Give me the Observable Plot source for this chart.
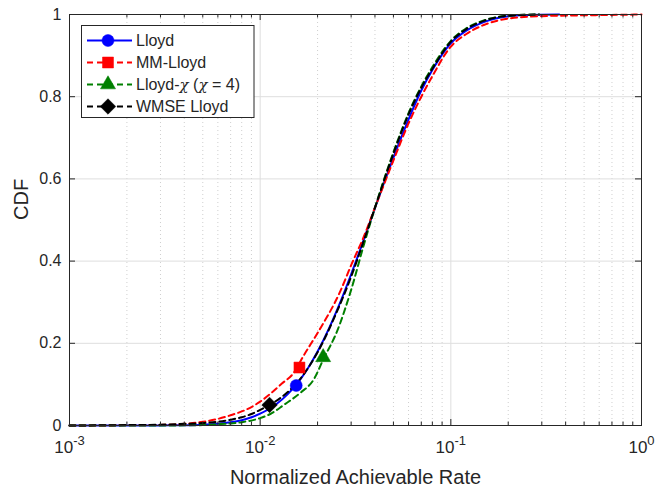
<!DOCTYPE html>
<html><head><meta charset="utf-8">
<script src="https://cdn.jsdelivr.net/npm/d3@7"></script>
<script src="https://cdn.jsdelivr.net/npm/@observablehq/plot@0.6"></script>
<style>body{margin:0;background:#fff}</style>
</head><body><div id="chart"></div>
<script>
// ---- data ----
const seriesNames = ["Lloyd", "MM-Lloyd", "Lloyd-χ (χ = 4)", "WMSE Lloyd"];
const seriesColors = ["#0000ff", "#ff0000", "#008000", "#000000"];
const seriesDash = [null, "6,4", "6,4", "6,4"];
const seriesSymbols = ["circle", "square", "triangle", "diamond2"];
const seriesR = [6, 6.2, 5.6, 7];

const lloydX = [0.001, 0.002, 0.003, 0.004, 0.005, 0.006, 0.007, 0.008, 0.009, 0.010, 0.012, 0.014, 0.016, 0.018, 0.020, 0.023, 0.026, 0.030, 0.035, 0.040, 0.045, 0.050, 0.060, 0.070, 0.080, 0.100, 0.120, 0.150, 0.200, 0.250, 0.370];
const lloydY = [0, 0, 0.0002, 0.0007, 0.002, 0.0045, 0.008, 0.013, 0.020, 0.029, 0.050, 0.077, 0.108, 0.143, 0.180, 0.237, 0.294, 0.368, 0.453, 0.529, 0.595, 0.652, 0.745, 0.815, 0.865, 0.930, 0.960, 0.982, 0.996, 0.999, 1.0];

const mmX = [0.001, 0.002, 0.003, 0.004, 0.005, 0.006, 0.007, 0.0082, 0.010, 0.0113, 0.013, 0.015, 0.0169, 0.020, 0.0264, 0.030, 0.035, 0.040, 0.050, 0.060, 0.070, 0.080, 0.100, 0.120, 0.150, 0.200, 0.300, 0.500, 1.0];
const mmY = [0, 0.0005, 0.0015, 0.004, 0.009, 0.016, 0.025, 0.036, 0.058, 0.077, 0.102, 0.128, 0.170, 0.225, 0.328, 0.39, 0.46, 0.53, 0.645, 0.735, 0.80, 0.85, 0.922, 0.952, 0.975, 0.990, 0.996, 0.998, 1.0];

const chiX = [0.001, 0.003, 0.005, 0.006, 0.007, 0.008, 0.010, 0.0113, 0.0133, 0.0163, 0.0191, 0.0214, 0.0254, 0.030, 0.035, 0.040, 0.050, 0.060, 0.070, 0.080, 0.100, 0.120, 0.150, 0.200, 0.290];
const chiY = [0, 0, 0.001, 0.003, 0.005, 0.008, 0.018, 0.028, 0.050, 0.080, 0.112, 0.160, 0.231, 0.33, 0.44, 0.53, 0.665, 0.76, 0.825, 0.872, 0.936, 0.966, 0.986, 0.997, 1.0];

const wmseX = [0.001, 0.002, 0.003, 0.004, 0.005, 0.006, 0.007, 0.008, 0.009, 0.010, 0.0112, 0.014, 0.016, 0.020, 0.025, 0.030, 0.035, 0.040, 0.050, 0.060, 0.070, 0.080, 0.100, 0.120, 0.150, 0.200, 0.290];
const wmseY = [0, 0.001, 0.002, 0.004, 0.006, 0.009, 0.014, 0.020, 0.028, 0.038, 0.050, 0.082, 0.110, 0.178, 0.272, 0.362, 0.450, 0.530, 0.662, 0.757, 0.822, 0.868, 0.934, 0.964, 0.985, 0.997, 1.0];

const markerX = [0.01546, 0.01607, 0.0214, 0.0112];
const markerY = [0.0973, 0.141, 0.166, 0.050];

const xMajorTicks = [0.001, 0.01, 0.1, 1];
const xMinorTicks = [0.002,0.003,0.004,0.005,0.006,0.007,0.008,0.009,0.02,0.03,0.04,0.05,0.06,0.07,0.08,0.09,0.2,0.3,0.4,0.5,0.6,0.7,0.8,0.9];
const yTicks = [0, 0.2, 0.4, 0.6, 0.8, 1];
const xLabel = "Normalized Achievable Rate";
const yLabel = "CDF";

// ---- layout ----
const W = 656, H = 487, mL = 69, mR = 15, mT = 14, mB = 62;
const plotW = W - mL - mR, plotH = H - mT - mB;
const pxPerDecade = plotW / 3;
const FONT = "'Liberation Sans', Arial, Helvetica, sans-serif";
const AX = "#262626";

const xs = [lloydX, mmX, chiX, wmseX], ys = [lloydY, mmY, chiY, wmseY];
const rows = [];
seriesNames.forEach((s, i) => xs[i].forEach((x, j) => rows.push({series: s, x, y: ys[i][j]})));
const markers = seriesNames.map((s, i) => ({series: s, x: markerX[i], y: markerY[i], i}));

const majLen = 6, minLen = 3.5;
const tickY = (len) => len / plotH;
const tickXf = (len) => Math.pow(10, len / pxPerDecade);

const lineMarks = seriesNames.map((s, i) =>
  Plot.line(rows.filter(r => r.series === s), {
    x: "x", y: "y", stroke: seriesColors[i], strokeWidth: 2,
    strokeDasharray: seriesDash[i], curve: "monotone-x"
  }));
const dotMarks = markers.map(m =>
  Plot.dot([m], {x: "x", y: "y", symbol: () => seriesSymbols[m.i], r: seriesR[m.i],
    fill: seriesColors[m.i], stroke: seriesColors[m.i], strokeWidth: 0.5}));

const chart = Plot.plot({
  width: W, height: H, marginLeft: mL, marginRight: mR, marginTop: mT, marginBottom: mB,
  style: {fontFamily: FONT, background: "#fff", color: AX},
  x: {type: "log", domain: [1e-3, 1]},
  y: {domain: [0, 1]},
  symbol: {type: "identity"},
  marks: [
    Plot.ruleX(xMinorTicks, {x: d => d, stroke: "#cfcfcf", strokeDasharray: "1,3", strokeWidth: 1}),
    Plot.ruleX(xMajorTicks.slice(1, -1), {x: d => d, stroke: "#dedede", strokeWidth: 1}),
    Plot.ruleY(yTicks.slice(1, -1), {y: d => d, stroke: "#dedede", strokeWidth: 1}),
    ...lineMarks,
    ...dotMarks,
    Plot.frame({stroke: AX, strokeWidth: 1}),
    // inward ticks, bottom & top
    Plot.ruleX(xMajorTicks, {x: d => d, y1: 0, y2: tickY(majLen), stroke: AX}),
    Plot.ruleX(xMajorTicks, {x: d => d, y1: 1 - tickY(majLen), y2: 1, stroke: AX}),
    Plot.ruleX(xMinorTicks, {x: d => d, y1: 0, y2: tickY(minLen), stroke: AX}),
    Plot.ruleX(xMinorTicks, {x: d => d, y1: 1 - tickY(minLen), y2: 1, stroke: AX}),
    // inward ticks, left & right
    Plot.ruleY(yTicks, {y: d => d, x1: 1e-3, x2: 1e-3 * tickXf(majLen), stroke: AX}),
    Plot.ruleY(yTicks, {y: d => d, x1: 1 / tickXf(majLen), x2: 1, stroke: AX}),
    Plot.axisX(xMajorTicks, {tickSize: 0, tickPadding: 15, fontSize: 17, label: null,
      tickFormat: d => "10|" + Math.round(Math.log10(d))}),
    Plot.axisY(yTicks, {tickSize: 0, tickPadding: 8, fontSize: 16, label: null,
      tickFormat: d => (d === 0 || d === 1) ? String(d) : d.toFixed(1)}),
    Plot.text([yLabel], {frameAnchor: "left", dx: -48, rotate: -90, fontSize: 20, fill: AX, text: d => d}),
    Plot.text([xLabel], {frameAnchor: "bottom", dy: 58, fontSize: 20, fill: AX, text: d => d})
  ]
});

// superscript exponent on x tick labels
d3.select(chart).selectAll('[aria-label="x-axis tick label"] text').each(function() {
  const t = d3.select(this);
  const parts = t.text().split("|");
  t.text(parts[0]);
  t.append("tspan").attr("dy", -8).attr("font-size", 13).text(parts[1]);
});

// legend
const svg = d3.select(chart);
const lg = svg.append("g").attr("font-family", FONT).attr("font-size", 16).attr("fill", AX)
  .attr("text-anchor", "start");
lg.append("rect").attr("x", 81.5).attr("y", 25.5).attr("width", 172.5).attr("height", 92)
  .attr("fill", "#fff").attr("stroke", AX).attr("stroke-width", 1);
const symMap = {circle: d3.symbolCircle, square: d3.symbolSquare, triangle: d3.symbolTriangle, diamond2: d3.symbolDiamond2};
seriesNames.forEach((s, i) => {
  const cy = 40.5 + i * 22;
  lg.append("line").attr("x1", 87).attr("x2", 132).attr("y1", cy).attr("y2", cy)
    .attr("stroke", seriesColors[i]).attr("stroke-width", 2)
    .attr("stroke-dasharray", seriesDash[i]);
  const r = seriesR[i];
  lg.append("path").attr("transform", `translate(108,${cy})`)
    .attr("d", d3.symbol(symMap[seriesSymbols[i]], Math.PI * r * r)())
    .attr("fill", seriesColors[i]).attr("stroke", seriesColors[i]).attr("stroke-width", 0.5);
  const t = lg.append("text").attr("x", 136).attr("y", cy).attr("dy", "0.36em").attr("text-anchor", "start");
  if (s.includes("χ")) {
    s.split(/(χ)/).forEach(p => {
      if (p === "χ") t.append("tspan").attr("font-family", "'DejaVu Serif', 'Liberation Serif', serif").attr("font-style", "italic").attr("font-size", 15).text(p);
      else if (p) t.append("tspan").text(p);
    });
  } else t.text(s);
});

document.getElementById("chart").appendChild(chart);
</script>
</body></html>
